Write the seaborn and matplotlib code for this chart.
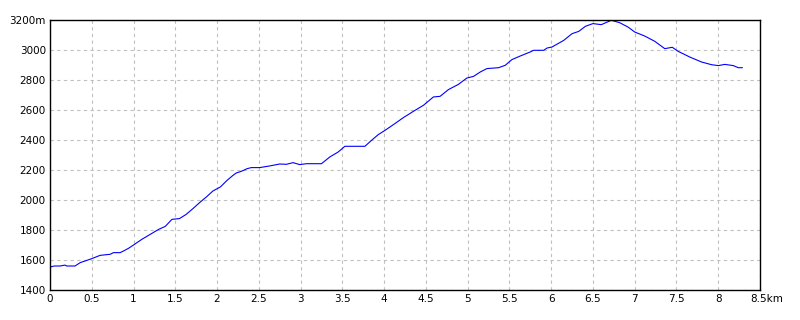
import matplotlib
matplotlib.use("Agg")
import matplotlib.pyplot as plt
import matplotlib.transforms as mtransforms
import seaborn as sns
import pandas as pd

distance_km = [0.00, 0.05, 0.12, 0.18, 0.20, 0.30, 0.36, 0.50, 0.60, 0.72, 0.76, 0.84, 0.88, 0.94,
               1.00, 1.10, 1.20, 1.30, 1.38, 1.46, 1.55, 1.63, 1.71, 1.80, 1.88, 1.95, 2.04, 2.12,
               2.19, 2.23, 2.29, 2.36, 2.41, 2.51, 2.63, 2.75, 2.83, 2.91, 2.99, 3.07, 3.25, 3.35,
               3.45, 3.53, 3.63, 3.77, 3.85, 3.93, 4.01, 4.11, 4.23, 4.35, 4.47, 4.59, 4.67, 4.77,
               4.89, 4.99, 5.07, 5.15, 5.23, 5.37, 5.45, 5.53, 5.63, 5.75, 5.79, 5.91, 5.95, 6.01,
               6.15, 6.25, 6.33, 6.41, 6.50, 6.60, 6.72, 6.82, 6.92, 7.00, 7.12, 7.24, 7.36, 7.45,
               7.52, 7.66, 7.80, 7.92, 8.00, 8.08, 8.18, 8.24, 8.29]
elevation_m = [1553, 1560, 1560, 1566, 1560, 1560, 1582, 1609, 1631, 1638, 1649, 1649, 1660, 1678,
               1700, 1738, 1771, 1804, 1824, 1871, 1876, 1904, 1942, 1987, 2024, 2060, 2087, 2131,
               2164, 2180, 2191, 2209, 2216, 2216, 2227, 2240, 2238, 2249, 2236, 2242, 2242, 2287,
               2320, 2358, 2358, 2358, 2398, 2436, 2464, 2502, 2549, 2591, 2631, 2687, 2691, 2736,
               2771, 2813, 2824, 2853, 2876, 2882, 2898, 2936, 2960, 2987, 2998, 2998, 3013, 3020,
               3064, 3109, 3124, 3158, 3176, 3169, 3198, 3182, 3153, 3120, 3093, 3058, 3009, 3018,
               2991, 2953, 2920, 2902, 2896, 2904, 2896, 2882, 2882]

x_ticks = [0, 0.5, 1, 1.5, 2, 2.5, 3, 3.5, 4, 4.5, 5, 5.5, 6, 6.5, 7, 7.5, 8, 8.5]
x_tick_labels = ["0", "0.5", "1", "1.5", "2", "2.5", "3", "3.5", "4", "4.5", "5", "5.5",
                 "6", "6.5", "7", "7.5", "8", "8.5km"]
y_ticks = [1400, 1600, 1800, 2000, 2200, 2400, 2600, 2800, 3000, 3200]
y_tick_labels = ["1400", "1600", "1800", "2000", "2200", "2400", "2600", "2800", "3000", "3200m"]

sns.set_style("white")
plt.rcParams["font.family"] = ["DejaVu Sans"]

df = pd.DataFrame({"km": distance_km, "m": elevation_m})

fig = plt.figure(figsize=(8, 3.2), dpi=100)
ax = fig.add_axes([50 / 800, 30 / 320, 710 / 800, 270 / 320])
sns.lineplot(data=df, x="km", y="m", ax=ax, color="#0000ff", linewidth=0.8)

ax.set_xlim(0, 8.5)
ax.set_ylim(1400, 3200)
ax.set_xticks(x_ticks)
ax.set_xticklabels(x_tick_labels, fontsize=7.5)
ax.set_yticks(y_ticks)
ax.set_yticklabels(y_tick_labels, fontsize=7.5)
ax.set_xlabel("")
ax.set_ylabel("")
ax.tick_params(length=0, pad=3, colors="black")
ax.grid(True, color="#c0c0c0", linestyle=(0, (3, 3)), linewidth=0.8)
for s in ax.spines.values():
    s.set_color("black")
    s.set_linewidth(1.0)
ax.set_axisbelow(True)

# shift last x label so "8.5" sits under its tick with "km" trailing
last = ax.get_xticklabels()[-1]
last.set_transform(last.get_transform() + mtransforms.ScaledTranslation(7 / 100, 0, fig.dpi_scale_trans))

fig.savefig("out.png", dpi=100, facecolor="white")
